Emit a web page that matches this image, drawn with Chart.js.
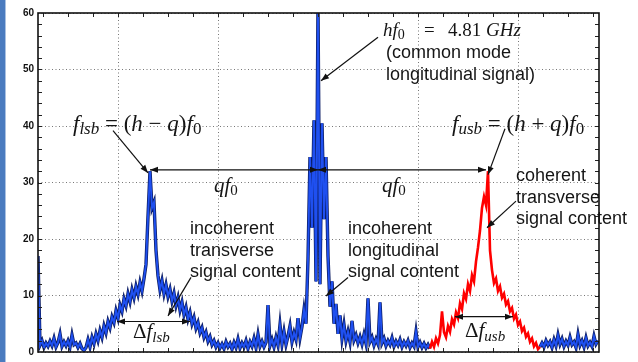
<!DOCTYPE html>
<html>
<head>
<meta charset="utf-8">
<script src="https://cdn.jsdelivr.net/npm/chart.js@4.4.1/dist/chart.umd.min.js"></script>
<style>
  html, body { margin: 0; padding: 0; background: #fff; overflow: hidden; }
</style>
</head>
<body>
<canvas id="spectrum" width="638" height="362"></canvas>
<script>
// spectrum bins, offset from hf0 (arbitrary units), one bin every 2
const startBin = -280;
const binStep = 2;
const level = [
  // low side baseline
  17, 1.2, 2.0, 0.8, 1.6, 1.0, 1.9, 1.1, 2.4, 0.9, 1.7, 3.2, 1.0, 1.8, 1.1, 2.0, 0.9, 3.0, 1.3, 1.6, 0.8, 1.5, 0.6, 0.3,
  // lower sideband
  0.8, 2.2, 0.9, 2.6, 1.5, 3.2, 2.0, 3.8, 2.6, 4.6,
  3.4, 5.4, 4.3, 6.2, 5.2, 7.3, 6.0, 8.3, 7.2, 9.4,
  8.2, 10.3, 8.9, 11.0, 9.6, 11.6, 10.2, 12.3, 10.8, 13.0,
  15.5, 24, 32, 25.5, 26.5, 18, 13.5, 11.0, 12.6, 10.3,
  11.9, 9.8, 11.1, 9.0, 10.4, 8.2, 9.6, 7.4, 8.8, 6.6,
  7.9, 5.8, 7.0, 5.0, 6.1, 4.2, 5.2, 3.4, 4.3, 2.6,
  3.5, 1.9, 2.7, 1.3, 2.0, 0.9, 1.6, 0.7,
  // baseline
  1.4, 0.6, 1.8, 0.9, 1.5, 0.5, 1.7, 0.8, 2.3, 0.7,
  1.6, 0.9, 2.0, 0.6, 1.8, 1.0, 2.4, 0.8, 3.1, 1.0,
  1.9, 0.9, 1.7, 8.3, 1.1, 2.2, 0.9, 2.6, 1.2, 4.8,
  1.4, 3.6, 1.3, 2.8, 4.6, 1.8, 3.4, 2.2, 6.0, 2.5,
  // common mode + incoherent longitudinal
  4.5, 7.5, 5.0, 16.5, 34.5, 22.0, 41.0, 12.5, 61, 12.0, 40.5, 23.5, 34.5, 17.0, 8.0, 12.5, 5.0, 8.5,
  // baseline
  3.2, 6.5, 2.4, 4.8, 2.0, 3.6, 1.8, 5.5, 2.1, 3.0,
  1.6, 2.7, 1.4, 3.1, 1.5, 9.5, 1.8, 2.6, 1.2, 2.3,
  1.4, 8.8, 1.6, 2.4, 1.1, 2.0, 1.3, 2.5, 1.0, 1.9,
  1.2, 2.2, 0.9, 1.8, 1.1, 2.0, 0.8, 1.6, 1.0, 3.6,
  0.9, 1.7, 0.8, 1.5, 0.7, 1.3,
  // upper sideband
  0.6, 1.8, 0.9, 2.4, 1.5, 3.0, 7.2, 3.5, 2.6, 4.6,
  3.6, 5.8, 4.9, 7.0, 6.0, 8.6, 7.6, 10.4, 9.4, 12.0,
  10.8, 13.6, 12.5, 16.0, 18.5, 21.5, 25.5, 27.5, 26.0, 32.0,
  18.0, 14.5, 12.2, 13.0, 10.8, 11.6, 9.6, 10.3, 8.4, 9.0,
  7.2, 7.8, 5.9, 6.6, 4.8, 5.4, 3.7, 4.3, 2.7, 3.3,
  1.8, 2.4, 1.0, 1.6, 0.5, 0.9,
  // high side baseline
  1.6, 0.9, 2.0, 1.2, 1.8, 0.8, 2.2, 1.1, 3.0, 1.4,
  2.3, 1.0, 1.9, 1.2, 2.6, 1.3, 1.8, 0.8, 3.1, 1.2,
  2.0, 0.9, 2.5, 1.1, 1.7, 1.0, 2.8, 1.4, 2.0
];
const usbBand = [112, 222];          // part drawn in red (coherent)
const gridLines = [-200, -100, 0, 100, 200];

const bins = level.map((v, i) => startBin + i * binStep);
const bluePts = bins.map((x, i) => ({ x: x, y: (x <= usbBand[0] || x >= usbBand[1]) ? level[i] : null }));
const redPts = bins.map((x, i) => ({ x: x, y: level[i] })).filter(p => p.x >= usbBand[0] && p.x <= usbBand[1]);

// annotations
const textNotes = [
  { x: 68, y: 52.0, lines: ['(common mode', 'longitudinal signal)'] },
  { x: 198, y: 30.2, lines: ['coherent', 'transverse', 'signal content'] },
  { x: -128, y: 20.8, lines: ['incoherent', 'transverse', 'signal content'] },
  { x: 30, y: 20.8, lines: ['incoherent', 'longitudinal', 'signal content'] }
];
const mathNotes = [
  { x: -245, y: 39.2, size: 23, parts: [['f','i'],['lsb','s'],[' = (','r'],['h','i'],[' \u2212 ','r'],['q','i'],[')','r'],['f','i'],['0','z']] },
  { x: 134, y: 39.2, size: 23, parts: [['f','i'],['usb','s'],[' = (','r'],['h','i'],[' + ','r'],['q','i'],[')','r'],['f','i'],['0','z']] },
  { x: 65, y: 56.0, size: 19, parts: [['h','i'],['f','i'],['0','z']] },
  { x: 106, y: 56.0, size: 19, parts: [['=','r']] },
  { x: 130, y: 56.0, size: 19, parts: [['4.81 ','r'],['GHz','i']] },
  { x: -104, y: 28.3, size: 21, parts: [['q','i'],['f','i'],['0','z']] },
  { x: 64, y: 28.3, size: 21, parts: [['q','i'],['f','i'],['0','z']] },
  { x: -185, y: 2.45, size: 21, parts: [['\u0394','r'],['f','i'],['lsb','s']] },
  { x: 147, y: 2.6, size: 21, parts: [['\u0394','r'],['f','i'],['usb','s']] }
];
const arrows = [
  { from: [60, 55.7], to: [3, 48.0] },
  { from: [-205, 39.2], to: [-170, 31.7] },
  { from: [187, 39.5], to: [170, 31.4] },
  { from: [0, 32.25], to: [-168, 32.25], both: true },
  { from: [0, 32.25], to: [168, 32.25], both: true },
  { from: [198, 26.7], to: [169, 22.0] },
  { from: [-127, 13.2], to: [-150, 6.4] },
  { from: [30, 13.2], to: [8, 9.9] },
  { from: [-201, 5.4], to: [-128, 5.4], both: true },
  { from: [137, 6.25], to: [195, 6.25], both: true }
];

function head(ctx, x1, y1, x2, y2) {
  const a = Math.atan2(y2 - y1, x2 - x1), L = 8, W = 3;
  ctx.beginPath();
  ctx.moveTo(x2, y2);
  ctx.lineTo(x2 - L * Math.cos(a) + W * Math.sin(a), y2 - L * Math.sin(a) - W * Math.cos(a));
  ctx.lineTo(x2 - L * Math.cos(a) - W * Math.sin(a), y2 - L * Math.sin(a) + W * Math.cos(a));
  ctx.closePath();
  ctx.fill();
}

function rich(ctx, x, y, parts, size) {
  let cx = x;
  for (const [txt, kind] of parts) {
    const sub = kind === 's' || kind === 'z';
    const it = kind === 'i' || kind === 's';
    const fs = sub ? Math.round(size * 0.72) : size;
    ctx.font = (it ? 'italic ' : '') + fs + 'px "Liberation Serif"';
    ctx.fillText(txt, cx, sub ? y + size * 0.16 : y);
    cx += ctx.measureText(txt).width;
  }
}

const framePlugin = {
  id: 'frame',
  beforeDraw(chart) {
    const ctx = chart.ctx;
    ctx.save();
    ctx.fillStyle = '#fff';
    ctx.fillRect(0, 0, chart.width, chart.height);
    ctx.fillStyle = '#4a7bbf';
    ctx.fillRect(0, 0, 5, chart.height);
    ctx.fillStyle = '#a9c1e2';
    ctx.fillRect(5, 0, 1, chart.height);
    ctx.restore();
  },
  afterDraw(chart) {
    const ctx = chart.ctx, a = chart.chartArea;
    const xs = chart.scales.x, ys = chart.scales.y;
    ctx.save();
    // minor ticks
    ctx.strokeStyle = '#222';
    ctx.lineWidth = 1;
    ctx.beginPath();
    for (let v = -275; v <= 275; v += 25) {
      const p = Math.round(xs.getPixelForValue(v)) + 0.5;
      ctx.moveTo(p, a.top); ctx.lineTo(p, a.top + 4);
      ctx.moveTo(p, a.bottom); ctx.lineTo(p, a.bottom - 4);
    }
    for (let v = 2; v < 60; v += 2) {
      const p = Math.round(ys.getPixelForValue(v)) + 0.5;
      ctx.moveTo(a.left, p); ctx.lineTo(a.left + 4, p);
      ctx.moveTo(a.right, p); ctx.lineTo(a.right - 4, p);
    }
    ctx.stroke();
    ctx.lineWidth = 1.6;
    ctx.strokeStyle = '#111';
    ctx.strokeRect(a.left, a.top, a.right - a.left, a.bottom - a.top);

    // arrows
    ctx.strokeStyle = '#111';
    ctx.fillStyle = '#111';
    ctx.lineWidth = 1.2;
    for (const ar of arrows) {
      const x1 = xs.getPixelForValue(ar.from[0]), y1 = ys.getPixelForValue(ar.from[1]);
      const x2 = xs.getPixelForValue(ar.to[0]), y2 = ys.getPixelForValue(ar.to[1]);
      ctx.beginPath(); ctx.moveTo(x1, y1); ctx.lineTo(x2, y2); ctx.stroke();
      head(ctx, x1, y1, x2, y2);
      if (ar.both) head(ctx, x2, y2, x1, y1);
    }

    // labels
    ctx.fillStyle = '#151515';
    ctx.textBaseline = 'alphabetic';
    ctx.textAlign = 'left';
    for (const n of textNotes) {
      ctx.font = '18px "Liberation Sans"';
      const x = xs.getPixelForValue(n.x), y = ys.getPixelForValue(n.y);
      n.lines.forEach((t, k) => ctx.fillText(t, x, y + k * 21.5));
    }
    for (const m of mathNotes) {
      rich(ctx, xs.getPixelForValue(m.x), ys.getPixelForValue(m.y), m.parts, m.size);
    }
    ctx.restore();
  }
};

new Chart('spectrum', {
  type: 'line',
  data: {
    datasets: [
      { data: redPts, borderColor: '#ff0000', borderWidth: 2.6 },
      { data: bluePts, borderColor: '#1f50f0', borderWidth: 1.9 },
      { data: bluePts, borderColor: '#0b1c62', borderWidth: 3.4 }
    ]
  },
  options: {
    responsive: false,
    animation: false,
    parsing: false,
    spanGaps: false,
    elements: { point: { radius: 0 }, line: { tension: 0 } },
    layout: { padding: { left: 0, right: 39, top: 13, bottom: 3 } },
    plugins: { legend: { display: false }, tooltip: { enabled: false } },
    scales: {
      x: {
        type: 'linear',
        min: -280,
        max: 281,
        afterBuildTicks: s => { s.ticks = gridLines.map(v => ({ value: v })); },
        afterFit: s => { s.height = 0; },
        ticks: { display: false },
        grid: { color: '#777', lineWidth: 1, drawTicks: false },
        border: { display: false, dash: [1, 2.5] }
      },
      y: {
        min: 0,
        max: 60,
        afterFit: s => { s.width = 38; },
        ticks: {
          stepSize: 10,
          padding: 4,
          color: '#111',
          font: { family: '"Liberation Sans"', size: 10, weight: 'bold' }
        },
        grid: { color: '#777', lineWidth: 1, drawTicks: false },
        border: { display: false, dash: [1, 2.5] }
      }
    }
  },
  plugins: [framePlugin]
});
</script>
</body>
</html>
